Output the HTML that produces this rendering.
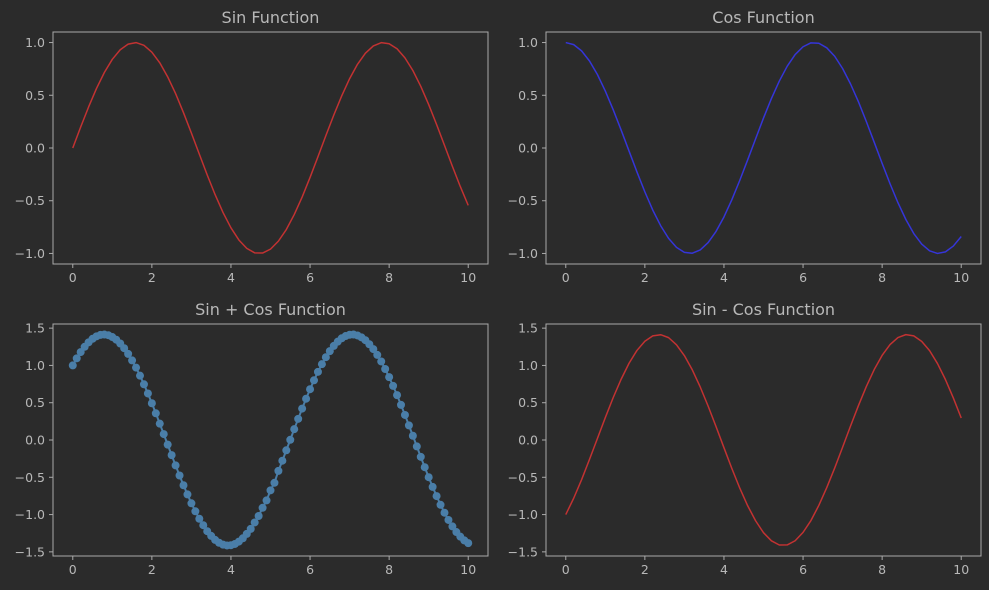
<!DOCTYPE html>
<html><head><meta charset="utf-8"><style>
html,body{margin:0;padding:0;background:#2b2b2b;}
svg{display:block;font-family:"DejaVu Sans","Liberation Sans",sans-serif;}
</style></head><body>
<svg id="chart" width="989" height="590" viewBox="0 0 989 590" xmlns="http://www.w3.org/2000/svg">
<rect x="0" y="0" width="989" height="590" fill="#2b2b2b"/>
</svg>
<script>
const xValues = [0,0.2,0.4,0.6,0.8,1.0,1.2,1.4,1.6,1.8,2.0,2.2,2.4,2.6,2.8,3.0,3.2,3.4,3.6,3.8,4.0,4.2,4.4,4.6,4.8,5.0,5.2,5.4,5.6,5.8,6.0,6.2,6.4,6.6,6.8,7.0,7.2,7.4,7.6,7.8,8.0,8.2,8.4,8.6,8.8,9.0,9.2,9.4,9.6,9.8,10];
const xDense = [0,0.1,0.2,0.3,0.4,0.5,0.6,0.7,0.8,0.9,1.0,1.1,1.2,1.3,1.4,1.5,1.6,1.7,1.8,1.9,2.0,2.1,2.2,2.3,2.4,2.5,2.6,2.7,2.8,2.9,3.0,3.1,3.2,3.3,3.4,3.5,3.6,3.7,3.8,3.9,4.0,4.1,4.2,4.3,4.4,4.5,4.6,4.7,4.8,4.9,5.0,5.1,5.2,5.3,5.4,5.5,5.6,5.7,5.8,5.9,6.0,6.1,6.2,6.3,6.4,6.5,6.6,6.7,6.8,6.9,7.0,7.1,7.2,7.3,7.4,7.5,7.6,7.7,7.8,7.9,8.0,8.1,8.2,8.3,8.4,8.5,8.6,8.7,8.8,8.9,9.0,9.1,9.2,9.3,9.4,9.5,9.6,9.7,9.8,9.9,10];
const sinValues = [0,0.199,0.389,0.565,0.717,0.841,0.932,0.985,0.9996,0.974,0.909,0.808,0.675,0.516,0.335,0.141,-0.058,-0.256,-0.443,-0.612,-0.757,-0.872,-0.952,-0.994,-0.996,-0.959,-0.883,-0.773,-0.631,-0.465,-0.279,-0.083,0.117,0.312,0.494,0.657,0.794,0.899,0.968,0.999,0.989,0.941,0.855,0.735,0.585,0.412,0.223,0.025,-0.174,-0.366,-0.544];
const cosValues = [1,0.980,0.921,0.825,0.697,0.540,0.362,0.170,-0.029,-0.227,-0.416,-0.589,-0.737,-0.857,-0.942,-0.990,-0.998,-0.967,-0.897,-0.791,-0.654,-0.490,-0.307,-0.112,0.087,0.284,0.469,0.635,0.776,0.886,0.960,0.997,0.993,0.950,0.870,0.754,0.608,0.439,0.251,0.054,-0.146,-0.339,-0.519,-0.678,-0.811,-0.911,-0.975,-1.000,-0.985,-0.930,-0.839];
const sumValues = [1,1.095,1.179,1.250,1.310,1.357,1.390,1.409,1.414,1.405,1.381,1.345,1.294,1.231,1.155,1.067,0.971,0.863,0.747,0.624,0.493,0.358,0.219,0.079,-0.062,-0.203,-0.341,-0.476,-0.607,-0.730,-0.849,-0.956,-1.056,-1.143,-1.223,-1.286,-1.340,-1.378,-1.403,-1.414,-1.411,-1.394,-1.362,-1.318,-1.259,-1.192,-1.106,-1.019,-0.909,-0.810,-0.675,-0.574,-0.414,-0.278,-0.138,0.003,0.145,0.284,0.421,0.554,0.681,0.801,0.914,1.017,1.110,1.192,1.262,1.319,1.364,1.394,1.411,1.414,1.402,1.377,1.338,1.284,1.219,1.141,1.053,0.952,0.843,0.726,0.602,0.471,0.336,0.196,0.057,-0.086,-0.226,-0.365,-0.499,-0.629,-0.752,-0.869,-0.975,-1.072,-1.159,-1.234,-1.296,-1.346,-1.383];
const diffValues = [-1,-0.781,-0.532,-0.260,0.020,0.301,0.570,0.815,1.029,1.201,1.325,1.397,1.412,1.373,1.277,1.131,0.940,0.711,0.454,0.179,-0.103,-0.382,-0.645,-0.882,-1.083,-1.243,-1.352,-1.408,-1.407,-1.351,-1.239,-1.080,-0.876,-0.638,-0.376,-0.097,0.186,0.460,0.717,0.945,1.135,1.280,1.374,1.413,1.396,1.323,1.198,1.025,0.811,0.564,0.295];
const xTicks = [0,2,4,6,8,10];
const yTicksUnit = [-1.0,-0.5,0.0,0.5,1.0];
const yTicksWide = [-1.5,-1.0,-0.5,0.0,0.5,1.0,1.5];

const NS="http://www.w3.org/2000/svg";
const svg=document.getElementById('chart');
function mk(tag,attrs,parent){const e=document.createElementNS(NS,tag);for(const k in attrs)e.setAttribute(k,attrs[k]);(parent||svg).appendChild(e);return e;}

const panels=[
 {name:'sin',title:'Sin Function',x:53,y:32,xs:xValues,ys:sinValues,yl:[-1.1,1.1],ticks:yTicksUnit,color:'#c23232',type:'line'},
 {name:'cos',title:'Cos Function',x:546,y:32,xs:xValues,ys:cosValues,yl:[-1.1,1.1],ticks:yTicksUnit,color:'#3535d8',type:'line'},
 {name:'sin-plus-cos',title:'Sin + Cos Function',x:53,y:324,xs:xDense,ys:sumValues,yl:[-1.5556,1.5556],ticks:yTicksWide,color:'#4a7ea8',type:'marker'},
 {name:'sin-minus-cos',title:'Sin - Cos Function',x:546,y:324,xs:xValues,ys:diffValues,yl:[-1.5556,1.5556],ticks:yTicksWide,color:'#c23232',type:'line'}
];
const W=435,H=232,tc='#b8b8b8';
panels.forEach(p=>{
 const g=mk('g',{});
 
 
 const sx=v=>p.x+(v+0.5)/11*W;
 const sy=v=>p.y+H-(v-p.yl[0])/(p.yl[1]-p.yl[0])*H;
 const t=mk('text',{x:p.x+W/2,y:p.y-9,'text-anchor':'middle','font-size':16,fill:tc},g);
 t.textContent=p.title;
 
 
 xTicks.forEach(v=>{
  const X=sx(v);
  const l=mk('line',{x1:X,x2:X,y1:p.y+H,y2:p.y+H+4,stroke:'#aaa'},g);
  
  
  const tl=mk('text',{x:X,y:p.y+H+18,'text-anchor':'middle','font-size':12.5,fill:tc},g);
  tl.textContent=v;
  
  
 });
 p.ticks.forEach(v=>{
  const Y=sy(v);
  const l=mk('line',{x1:p.x-4,x2:p.x,y1:Y,y2:Y,stroke:'#aaa'},g);
  
  
  const tl=mk('text',{x:p.x-8,y:Y+4.5,'text-anchor':'end','font-size':12.5,fill:tc},g);
  tl.textContent=(v<0?'\u2212':'')+Math.abs(v).toFixed(1);
  
  
 });
 const pts=p.xs.map((x,i)=>sx(x).toFixed(2)+','+sy(p.ys[i]).toFixed(2)).join(' ');
 const line=mk('polyline',{points:pts,fill:'none',stroke:p.color,'stroke-width':p.type==='marker'?2:1.5,'stroke-linejoin':'round'},g);
 
 
 if(p.type==='marker'){
  p.xs.forEach((x,i)=>{
   const c=mk('circle',{cx:sx(x),cy:sy(p.ys[i]),r:4,fill:p.color},g);
   
   
  });
 }
 const fr=mk('rect',{x:p.x,y:p.y,width:W,height:H,fill:'none',stroke:'#aaa','stroke-width':1},g);
 
 
});
</script>
</body></html>
